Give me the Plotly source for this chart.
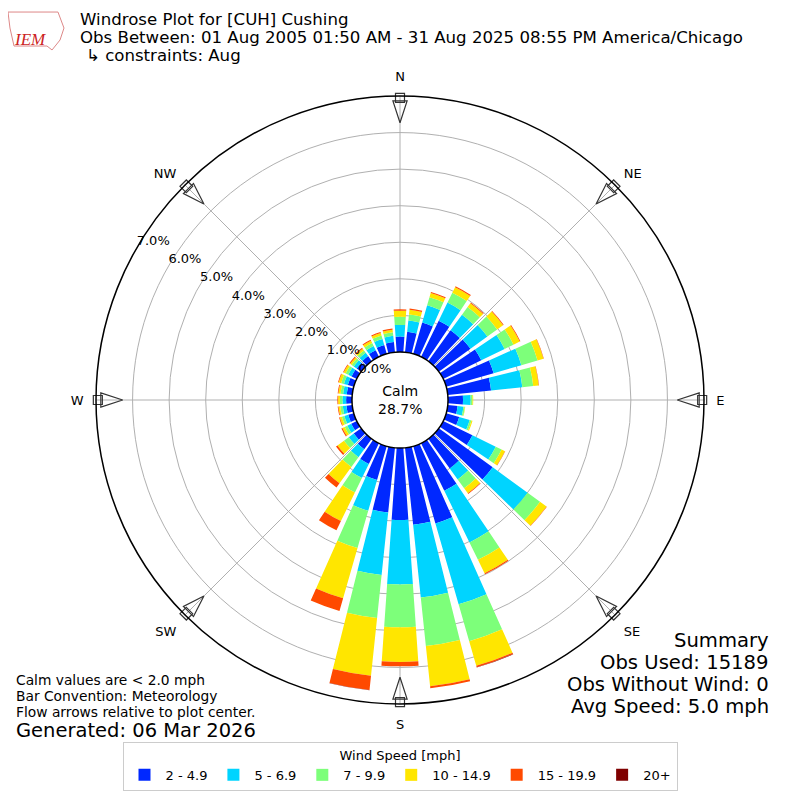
import plotly.graph_objects as go

# wind directions (deg, from north, clockwise) and speed bins
directions = [0, 10, 20, 30, 40, 50, 60, 70, 80, 90, 100, 110,
              120, 130, 140, 150, 160, 170, 180, 190, 200, 210, 220, 230,
              240, 250, 260, 270, 280, 290, 300, 310, 320, 330, 340, 350]
bin_labels = ["2 - 4.9", "5 - 6.9", "7 - 9.9", "10 - 14.9", "15 - 19.9", "20+"]
bin_colors = ["#0028ff", "#00d4ff", "#7dff7a", "#ffe600", "#ff4a00", "#7f0000"]

# percent of observations per direction, one list per speed bin
spd_2_5 = [0.42, 0.56, 0.89, 1.10, 1.04, 1.07, 1.16, 1.35, 1.19, 0.41, 0.27, 0.37,
           0.89, 1.82, 1.00, 1.45, 2.20, 2.12, 1.97, 1.78, 0.96, 0.63, 0.35, 0.25,
           0.17, 0.16, 0.16, 0.16, 0.15, 0.17, 0.16, 0.15, 0.17, 0.20, 0.25, 0.28]
spd_5_7 = [0.32, 0.31, 0.49, 0.55, 0.53, 0.57, 0.71, 0.79, 0.86, 0.21, 0.16, 0.30,
           0.71, 1.18, 0.37, 1.57, 2.30, 2.00, 1.76, 1.72, 0.88, 0.43, 0.27, 0.17,
           0.12, 0.11, 0.10, 0.10, 0.10, 0.11, 0.10, 0.10, 0.11, 0.13, 0.17, 0.17]
spd_7_10 = [0.22, 0.17, 0.23, 0.30, 0.26, 0.33, 0.27, 0.46, 0.30, 0.05, 0.04, 0.05,
            0.18, 0.42, 0.30, 0.53, 1.05, 1.33, 1.17, 1.18, 1.06, 0.44, 0.33, 0.16,
            0.08, 0.07, 0.07, 0.07, 0.07, 0.08, 0.08, 0.07, 0.08, 0.09, 0.10, 0.10]
spd_10_15 = [0.17, 0.13, 0.12, 0.17, 0.13, 0.20, 0.19, 0.17, 0.15, 0.02, 0.01, 0.03,
             0.10, 0.22, 0.17, 0.41, 0.70, 1.11, 0.95, 1.59, 1.43, 0.87, 0.55, 0.22,
             0.07, 0.06, 0.05, 0.05, 0.06, 0.07, 0.06, 0.05, 0.06, 0.07, 0.07, 0.07]
spd_15_20 = [0.04, 0.03, 0.03, 0.03, 0.02, 0.02, 0.02, 0.01, 0.01, 0.00, 0.00, 0.00,
             0.01, 0.01, 0.02, 0.03, 0.04, 0.05, 0.12, 0.39, 0.36, 0.28, 0.14, 0.05,
             0.03, 0.02, 0.02, 0.02, 0.02, 0.02, 0.02, 0.03, 0.03, 0.03, 0.03, 0.03]
spd_20p = [0.00, 0.00, 0.00, 0.00, 0.00, 0.00, 0.00, 0.00, 0.00, 0.00, 0.00, 0.00,
           0.00, 0.00, 0.00, 0.00, 0.01, 0.00, 0.00, 0.01, 0.00, 0.00, 0.00, 0.00,
           0.00, 0.00, 0.00, 0.00, 0.00, 0.00, 0.00, 0.00, 0.00, 0.00, 0.00, 0.00]
calm_pct = 28.7

r_ticks = [0, 1, 2, 3, 4, 5, 6, 7]
r_tick_txt = ["0.0%", "1.0%", "2.0%", "3.0%", "4.0%", "5.0%", "6.0%", "7.0%"]
compass_deg = [0, 45, 90, 135, 180, 225, 270, 315]
compass_txt = ["N", "NE", "E", "SE", "S", "SW", "W", "NW"]

FONT = "DejaVu Sans"
W = 792  # page has an 8px body margin, so the figure is drawn 8px in
OFF = 8


def fx(px):
    return (px - OFF) / W


def fy(py):
    return 1 - (py - OFF) / W


fig = go.Figure()
for name, vals, col in zip(bin_labels,
                           [spd_2_5, spd_5_7, spd_7_10, spd_10_15, spd_15_20, spd_20p],
                           bin_colors):
    fig.add_trace(go.Barpolar(r=vals, theta=directions, width=8, name=name,
                              marker=dict(color=col, line=dict(width=0))))

# radial tick labels along the 300 deg ray, shifted up/right like the original
fig.add_trace(go.Scatterpolar(
    r=r_ticks, theta=[300] * len(r_ticks), mode="text", text=r_tick_txt,
    textposition="top right", textfont=dict(size=13, color="black", family=FONT),
    showlegend=False, hoverinfo="skip", cliponaxis=False))

# flow arrows around the rim (head + shaft)
fig.add_trace(go.Scatterpolar(
    r=[6.27] * len(compass_deg), theta=compass_deg, mode="markers",
    marker=dict(symbol="arrow-open", size=23, color="#333333",
                angle=[d + 180 for d in compass_deg], line=dict(width=1.2, color="#333333")),
    showlegend=False, hoverinfo="skip"))
fig.add_trace(go.Scatterpolar(
    r=[6.95] * len(compass_deg), theta=compass_deg, mode="markers",
    marker=dict(symbol="square-open", size=9, color="#333333",
                angle=compass_deg, line=dict(width=1.2, color="#333333")),
    showlegend=False, hoverinfo="skip", cliponaxis=False))

fig.update_layout(
    width=W, height=W,
    margin=dict(l=0, r=0, t=0, b=0),
    paper_bgcolor="white",
    font=dict(family=FONT, size=13, color="black"),
    polar=dict(
        domain=dict(x=[fx(96), fx(704)], y=[fy(704), fy(96)]),
        hole=0.158,
        bgcolor="white",
        barmode="stack",
        radialaxis=dict(range=[0, 7], tickvals=r_ticks, showticklabels=False,
                        showline=False, ticks="",
                        gridcolor="#b0b0b0", gridwidth=1),
        angularaxis=dict(rotation=90, direction="clockwise",
                         tickvals=compass_deg, ticktext=compass_txt,
                         ticks="outside", ticklen=9, tickcolor="rgba(0,0,0,0)",
                         showline=True, linecolor="black", linewidth=1.5,
                         gridcolor="#b0b0b0", gridwidth=1,
                         tickfont=dict(size=13)),
    ),
    legend=dict(orientation="h", x=fx(400), xanchor="center", y=fy(742),
                yanchor="top", bordercolor="#cccccc", borderwidth=1,
                bgcolor="white", font=dict(size=13), itemwidth=32,
                title=dict(text="Wind Speed [mph]", side="top center",
                           font=dict(size=13))),
)


def px_note(x, y, text, size, anchor="left", color="black", family=FONT):
    fig.add_annotation(x=fx(x), y=fy(y), xref="paper", yref="paper",
                       text=text, showarrow=False, xanchor=anchor, yanchor="middle",
                       font=dict(size=size, color=color, family=family))


px_note(78, 20, "Windrose Plot for [CUH] Cushing", 16.6)
px_note(78, 38, "Obs Between: 01 Aug 2005 01:50 AM - 31 Aug 2025 08:55 PM America/Chicago", 16.6)
px_note(84, 56, "↳ constraints: Aug", 16.6)
px_note(30, 39, "<i>IEM</i>", 17, anchor="center", color="#cc2222", family="Liberation Serif")

px_note(14, 680, "Calm values are < 2.0 mph", 13.8)
px_note(14, 696, "Bar Convention: Meteorology", 13.8)
px_note(14, 712, "Flow arrows relative to plot center.", 13.8)
px_note(14, 730, "Generated: 06 Mar 2026", 19.5)

px_note(771, 640, "Summary", 19.6, anchor="right")
px_note(771, 662, "Obs Used: 15189", 19.6, anchor="right")
px_note(771, 684, "Obs Without Wind: 0", 19.6, anchor="right")
px_note(771, 706, "Avg Speed: 5.0 mph", 19.6, anchor="right")

fig.add_annotation(x=fx(400), y=fy(400), xref="paper", yref="paper", showarrow=False,
                   text="Calm<br>%.1f%%" % calm_pct, font=dict(size=14))

# rough state outline behind the logo text
fig.add_shape(type="path", xref="paper", yref="paper",
              path="M %.4f %.4f L %.4f %.4f L %.4f %.4f L %.4f %.4f L %.4f %.4f "
                   "L %.4f %.4f L %.4f %.4f L %.4f %.4f Z" % (
                       fx(8), fy(12), fx(58), fy(12), fx(64), fy(28), fx(60), fy(40),
                       fx(52), fy(50), fx(47), fy(46), fx(14), fy(46), fx(10), fy(28)),
              line=dict(color="#dd8888", width=1))

fig.write_html("out.html")
